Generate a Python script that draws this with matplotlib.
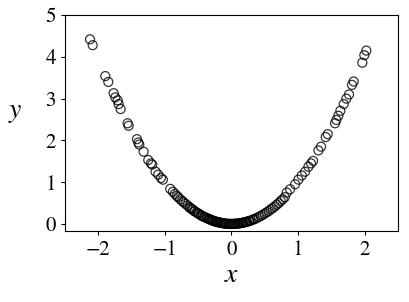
import matplotlib
matplotlib.use("Agg")
import matplotlib.pyplot as plt

plt.rcParams['font.family'] = ['STIXGeneral', 'DejaVu Serif']
plt.rcParams['mathtext.fontset'] = 'stix'

x_vals = [-2.125, -2.085, -1.895, -1.85, -1.77, -1.745, -1.71, -1.695, -1.665,
          -1.56, -1.545, -1.42, -1.40, -1.385, -1.32, -1.25, -1.21, -1.19, -1.14,
          -1.10, -1.06, -1.03, -0.92,
          -0.88, -0.85, -0.82, -0.80, -0.77, -0.74, -0.72, -0.69, -0.66, -0.63,
          -0.60, -0.58, -0.55, -0.52, -0.49, -0.46, -0.43, -0.40, -0.37, -0.34,
          -0.31, -0.28, -0.25, -0.22, -0.19, -0.16, -0.13, -0.10, -0.07, -0.04,
          -0.01, 0.02, 0.05, 0.08, 0.11, 0.14, 0.17, 0.20, 0.23, 0.26, 0.29,
          0.32, 0.35, 0.38, 0.41, 0.44, 0.47, 0.50, 0.53, 0.56, 0.59, 0.62,
          0.65, 0.68, 0.71, 0.74, 0.77, 0.80,
          -0.45, -0.36, -0.27, -0.18, -0.09, 0.00, 0.09, 0.18, 0.27, -0.50,
          -0.33, -0.21, -0.03, 0.12, 0.06, -0.15,
          -0.62, -0.56, -0.41, -0.30, -0.24, -0.12, 0.04, 0.15, 0.22, 0.33,
          0.83, 0.88, 0.955, 1.005, 1.055, 1.105, 1.155, 1.195, 1.225, 1.305,
          1.345, 1.415, 1.445, 1.555, 1.575, 1.605, 1.635, 1.685, 1.725, 1.765,
          1.81, 1.835, 1.965, 1.995, 2.025]
y_vals = [4.42, 4.28, 3.54, 3.40, 3.13, 3.03, 2.96, 2.87, 2.75,
          2.41, 2.35, 2.03, 1.95, 1.90, 1.73, 1.53, 1.45, 1.42, 1.25,
          1.18, 1.10, 1.06, 0.84,
          0.77, 0.72, 0.67, 0.64, 0.59, 0.55, 0.52, 0.48, 0.44, 0.40,
          0.36, 0.34, 0.30, 0.27, 0.24, 0.21, 0.18, 0.16, 0.14, 0.12,
          0.10, 0.08, 0.06, 0.05, 0.04, 0.03, 0.02, 0.01, 0.005, 0.002,
          0.0, 0.0, 0.003, 0.006, 0.012, 0.02, 0.03, 0.04, 0.05, 0.07, 0.08,
          0.10, 0.12, 0.14, 0.17, 0.19, 0.22, 0.25, 0.28, 0.31, 0.35, 0.38,
          0.42, 0.46, 0.50, 0.55, 0.59, 0.64,
          0.20, 0.13, 0.07, 0.03, 0.008, 0.0, 0.008, 0.03, 0.07, 0.25,
          0.11, 0.044, 0.001, 0.014, 0.004, 0.022,
          0.38, 0.31, 0.17, 0.09, 0.058, 0.014, 0.002, 0.022, 0.048, 0.11,
          0.75, 0.83, 0.95, 1.06, 1.16, 1.25, 1.37, 1.45, 1.51, 1.76,
          1.85, 2.08, 2.15, 2.41, 2.49, 2.59, 2.71, 2.87, 3.00, 3.10,
          3.33, 3.41, 3.86, 4.04, 4.15]

x_ticks = [-2, -1, 0, 1, 2]
y_ticks = [0, 1, 2, 3, 4, 5]

fig = plt.figure(figsize=(4.09, 3.02), dpi=100)
ax = fig.add_axes([0.159, 0.235, 0.814, 0.715])
ax.scatter(x_vals, y_vals, s=42, facecolors='none', edgecolors='black',
           linewidths=0.9, alpha=0.8)
ax.set_xlim(-2.5, 2.5)
ax.set_ylim(-0.17, 5.0)
ax.set_xticks(x_ticks)
ax.set_yticks(y_ticks)
ax.tick_params(labelsize=15, length=3, width=0.8)
ax.set_xlabel('$x$', fontsize=20, labelpad=2)
ax.set_ylabel('$y$', fontsize=20, rotation=0, va='center', ha='center')
ax.yaxis.set_label_coords(-0.15, 0.55)
fig.savefig('out.png', dpi=100)
